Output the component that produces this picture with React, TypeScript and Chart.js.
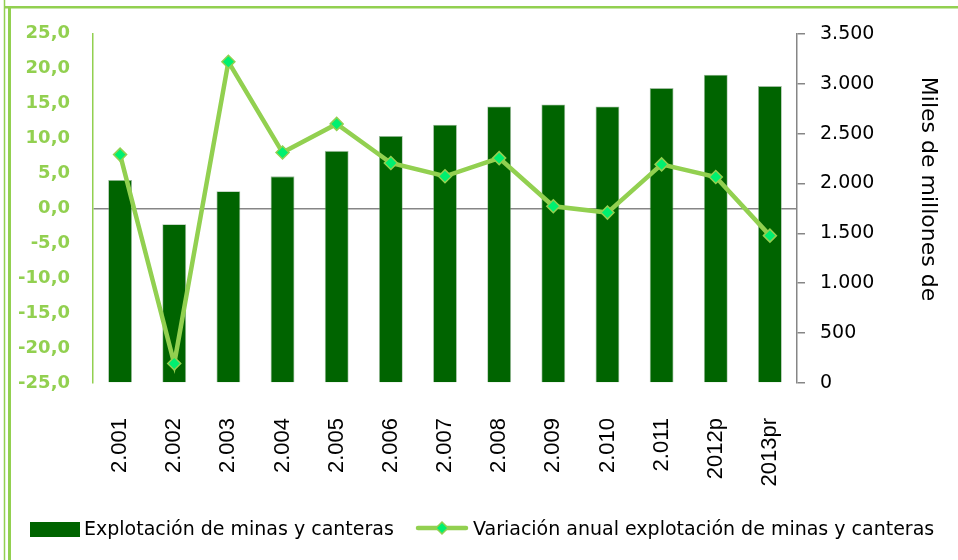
import { useEffect, useRef } from "react";
import { Chart, registerables } from "chart.js";

Chart.register(...registerables);

const categories = [
  "2.001", "2.002", "2.003", "2.004", "2.005", "2.006", "2.007",
  "2.008", "2.009", "2.010", "2.011", "2012p", "2013pr",
];
// Miles de millones de pesos (eje derecho)
const explotacion = [2035, 1591, 1922, 2071, 2327, 2476, 2588, 2771, 2791, 2771, 2956, 3089, 2976];
// Variación anual % (eje izquierdo)
const variacion = [7.7, -22.2, 21.0, 8.0, 12.1, 6.5, 4.6, 7.2, 0.3, -0.6, 6.3, 4.5, -3.9];

const leftMin = -25;
const leftMax = 25;
const leftStep = 5;
const rightMin = 0;
const rightMax = 3500;
const rightStep = 500;

const barLabel = "Explotación de minas y canteras";
const lineLabel = "Variación anual explotación de minas y canteras";
const rightTitle = "Miles de millones de";

const BAR_COLOR = "#006400";
const LINE_COLOR = "#92D050";
const MARKER_COLOR = "#00F070";
const AXIS_GRAY = "#868686";

const fmtLeft = (v: number) => v.toFixed(1).replace(".", ",");
const fmtRight = (v: number) =>
  String(Math.round(v)).replace(/\B(?=(\d{3})+(?!\d))/g, ".");

const decorPlugin = {
  id: "decor",
  afterDraw(chart: any) {
    const ctx = chart.ctx as CanvasRenderingContext2D;
    ctx.save();
    // outer frame lines
    ctx.strokeStyle = LINE_COLOR;
    ctx.lineWidth = 1.5;
    ctx.beginPath();
    ctx.moveTo(4.5, 0);
    ctx.lineTo(4.5, 560);
    ctx.stroke();
    ctx.lineWidth = 3;
    ctx.beginPath();
    ctx.moveTo(9.5, 6);
    ctx.lineTo(9.5, 560);
    ctx.stroke();
    ctx.lineWidth = 2.5;
    ctx.beginPath();
    ctx.moveTo(4, 7.25);
    ctx.lineTo(958, 7.25);
    ctx.stroke();

    // right axis title
    ctx.save();
    ctx.translate(928, 189);
    ctx.rotate(Math.PI / 2);
    ctx.fillStyle = "#000";
    ctx.font = '22px "DejaVu Sans"';
    ctx.textAlign = "center";
    ctx.textBaseline = "middle";
    ctx.fillText(rightTitle, 0, 0);
    ctx.restore();

    // legend
    const ds0 = chart.data.datasets[0];
    const ds1 = chart.data.datasets[1];
    ctx.fillStyle = ds0.backgroundColor;
    ctx.fillRect(30, 522, 50, 15);
    ctx.fillStyle = "#000";
    ctx.font = '19px "DejaVu Sans"';
    ctx.textAlign = "left";
    ctx.textBaseline = "middle";
    ctx.fillText(ds0.label, 84, 530);

    ctx.strokeStyle = ds1.borderColor;
    ctx.lineWidth = 4.5;
    ctx.lineCap = "round";
    ctx.beginPath();
    ctx.moveTo(418, 528);
    ctx.lineTo(466, 528);
    ctx.stroke();
    ctx.fillStyle = ds1.pointBackgroundColor;
    ctx.strokeStyle = ds1.pointBorderColor;
    ctx.lineWidth = 1.5;
    ctx.beginPath();
    ctx.moveTo(442, 522);
    ctx.lineTo(448, 528);
    ctx.lineTo(442, 534);
    ctx.lineTo(436, 528);
    ctx.closePath();
    ctx.fill();
    ctx.stroke();
    ctx.fillStyle = "#000";
    ctx.fillText(ds1.label, 473, 530);
    ctx.restore();
  },
};

export default function App() {
  const canvasRef = useRef<HTMLCanvasElement | null>(null);

  useEffect(() => {
    document.body.style.margin = "0";
    const canvas = canvasRef.current;
    if (!canvas) return;
    const chart = new Chart(canvas, {
      type: "bar",
      data: {
        labels: categories,
        datasets: [
          {
            type: "bar",
            label: barLabel,
            data: explotacion,
            yAxisID: "yR",
            backgroundColor: BAR_COLOR,
            borderColor: "rgba(120,160,120,0.7)",
            borderWidth: 0.8,
            categoryPercentage: 1,
            barPercentage: 0.44,
            order: 2,
          },
          {
            type: "line",
            label: lineLabel,
            data: variacion,
            yAxisID: "yL",
            borderColor: LINE_COLOR,
            borderWidth: 4.5,
            pointStyle: "rectRot",
            pointRadius: 6.5,
            pointBackgroundColor: MARKER_COLOR,
            pointBorderColor: LINE_COLOR,
            pointBorderWidth: 1.5,
            tension: 0,
            order: 1,
          },
        ] as any,
      },
      options: {
        animation: false,
        responsive: false,
        maintainAspectRatio: false,
        layout: { padding: { top: 31, left: 0, right: 0, bottom: 0 } },
        plugins: {
          legend: { display: false },
          tooltip: { enabled: false },
        },
        scales: {
          x: {
            offset: true,
            grid: { display: false, drawTicks: false },
            border: { display: false },
            ticks: {
              minRotation: 90,
              maxRotation: 90,
              autoSkip: false,
              padding: 35,
              color: "#000",
              font: { family: "Liberation Sans", size: 22 },
            },
            afterFit(scale: any) {
              scale.height = 177;
            },
          },
          yL: {
            position: "left",
            min: leftMin,
            max: leftMax,
            grid: {
              drawTicks: false,
              color: (c: any) => (c.tick && c.tick.value === 0 ? AXIS_GRAY : "rgba(0,0,0,0)"),
              lineWidth: 1.5,
            },
            border: { display: true, color: LINE_COLOR, width: 1.5 },
            ticks: {
              stepSize: leftStep,
              padding: 23,
              color: LINE_COLOR,
              font: { family: "DejaVu Sans", size: 18, weight: "bold" },
              callback: (v: any) => fmtLeft(Number(v)),
            },
            afterFit(scale: any) {
              scale.width = 93;
            },
          },
          yR: {
            position: "right",
            min: rightMin,
            max: rightMax,
            grid: {
              drawOnChartArea: false,
              drawTicks: true,
              tickLength: 8,
              color: AXIS_GRAY,
              lineWidth: 1.5,
            },
            border: { display: true, color: AXIS_GRAY, width: 1.5 },
            ticks: {
              stepSize: rightStep,
              padding: 15,
              color: "#000",
              font: { family: "DejaVu Sans", size: 19 },
              callback: (v: any) => fmtRight(Number(v)),
            },
            afterFit(scale: any) {
              scale.width = 161;
            },
          },
        },
      } as any,
      plugins: [decorPlugin],
    });
    return () => chart.destroy();
  }, []);

  return (
    <div style={{ width: 958, height: 560, background: "#fff" }}>
      <canvas ref={canvasRef} width={958} height={560} style={{ display: "block" }} />
    </div>
  );
}
